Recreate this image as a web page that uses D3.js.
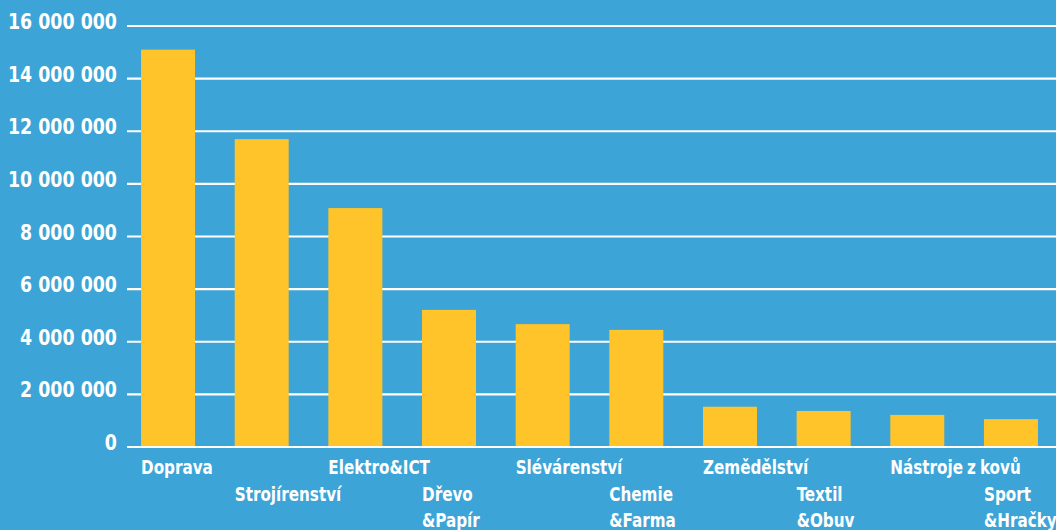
<!DOCTYPE html>
<html><head><meta charset="utf-8">
<script src="https://cdn.jsdelivr.net/npm/d3@7"></script>
<style>
html,body{margin:0;padding:0;background:#3ca4d6;}
svg{display:block;}
text{font-family:"DejaVu Sans Condensed","DejaVu Sans",sans-serif;font-weight:bold;fill:#fff;}
</style></head><body>
<script>
const categories = ["Doprava","Strojírenství","Elektro&ICT","Dřevo\n&Papír","Slévárenství","Chemie\n&Farma","Zemědělství","Textil\n&Obuv","Nástroje z kovů","Sport\n&Hračky"];
const values = [15100000,11700000,9080000,5210000,4670000,4450000,1530000,1370000,1220000,1060000];
const yTicks = [0,2000000,4000000,6000000,8000000,10000000,12000000,14000000,16000000];

const W=1056,H=530;
const svg=d3.select("body").append("svg").attr("width",W).attr("height",H);
svg.append("rect").attr("width",W).attr("height",H).attr("fill","#3ca4d6");

const x=d3.scaleBand().domain(categories).range([127,1052]).paddingInner(0.4235).paddingOuter(0.15);
const y=d3.scaleLinear().domain([0,16000000]).range([447,26]);

const fmt=v=>d3.format(",")(v).replace(/,/g," ");

// grid
svg.append("g").selectAll("line").data(yTicks).join("line")
  .attr("x1",127).attr("x2",W).attr("y1",d=>y(d)).attr("y2",d=>y(d))
  .attr("stroke","#fff").attr("stroke-width",2.2);

svg.append("g").selectAll("text").data(yTicks).join("text")
  .attr("transform",d=>`translate(117,${y(d)+3}) scale(0.88,1)`).attr("text-anchor","end")
  .attr("font-size",22).text(d=>fmt(d));

svg.append("g").selectAll("rect").data(values).join("rect")
  .attr("x",(d,i)=>x(categories[i])).attr("width",x.bandwidth())
  .attr("y",d=>y(d)).attr("height",d=>y(0)-1-y(d)).attr("fill","#ffc42a");

const lab=svg.append("g").selectAll("text").data(categories).join("text")
  .attr("transform",(d,i)=>`translate(${x(d)},${i%2===0?474:501}) scale(0.845,1)`)
  .attr("font-size",20).style("word-spacing","-1.5px");
lab.each(function(d){
  const t=d3.select(this); const parts=d.split("\n");
  parts.forEach((p,k)=>t.append("tspan").attr("x",0).attr("dy",k===0?0:26).text(p));
});
</script></body></html>
